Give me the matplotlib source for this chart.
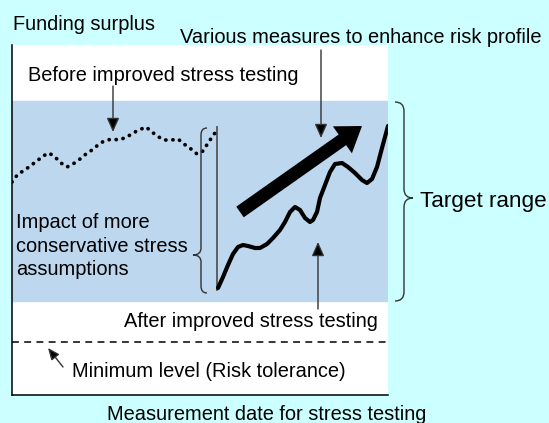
import matplotlib
matplotlib.use("Agg")
import matplotlib.pyplot as plt
from matplotlib.path import Path
from matplotlib.patches import PathPatch

plt.rcParams['font.family'] = ['Liberation Sans', 'DejaVu Sans']

# ---- data (axis units: x 0..376, y 0..350) ----
before_x = [0, 6, 13, 18, 25, 31, 37, 43, 49, 55, 61, 68, 74, 80, 86, 92, 100, 107, 115, 121, 127, 134, 140, 145, 152, 160, 166, 172, 179, 185, 191, 196, 205]
before_y = [213, 221, 225, 229, 234, 239, 242, 238, 232, 228, 231, 236, 241, 245, 250, 254, 256, 255, 258, 262, 265, 268, 263, 259, 255, 255, 256, 251, 246, 241, 244, 252, 265]

after_x = [206, 211, 216, 221, 226, 231, 236, 243, 248, 255, 261, 268, 273, 278, 283, 288, 293, 298, 301, 305, 308, 313, 318, 323, 330, 336, 343, 350, 355, 360, 365, 370, 376]
after_y = [107, 118, 130, 141, 148, 150, 149, 147, 147, 151, 157, 165, 173, 183, 188, 185, 177, 173, 175, 183, 197, 210, 223, 231, 232, 228, 222, 215, 212, 216, 228, 247, 269]

target_range = (94, 294)
minimum_level = 53
measures_arrow = [(228, 183), (350, 269)]
impact_lines = ["Impact of more", "conservative stress", "assumptions"]

BG = '#CCFFFF'
SHADE = '#BDD7EE'
FS = 14.4

fig = plt.figure(figsize=(5.49, 4.23), dpi=100, facecolor=BG)
W, H = 549, 423
ax = fig.add_axes([12 / W, (H - 395) / H, 376 / W, 350 / H])
ax.set_xlim(0, 376)
ax.set_ylim(0, 350)
ax.set_facecolor('white')
for s in ['top', 'right']:
    ax.spines[s].set_visible(False)
for s in ['left', 'bottom']:
    ax.spines[s].set_linewidth(1.1)
    ax.spines[s].set_color('black')
ax.set_xticks([])
ax.set_yticks([])

# target band
ax.axhspan(target_range[0], target_range[1], color=SHADE, zorder=0)
# minimum level
ax.axhline(minimum_level, color='black', lw=1.1, linestyle=(0, (4.5, 3.5)), zorder=2)

# lines
ax.plot(before_x, before_y, color='black', lw=2.7, linestyle=(0, (0.05, 1.85)),
        dash_capstyle='round', zorder=3)
ax.plot(after_x, after_y, color='black', lw=3.0, solid_capstyle='round',
        solid_joinstyle='round', zorder=3)

# big arrow
(x0, y0), (x1, y1) = measures_arrow
ax.arrow(x0, y0, x1 - x0, y1 - y0, width=13, head_width=33, head_length=24,
         length_includes_head=True, color='black', lw=0, zorder=4)

# gray vertical line
ax.plot([205, 205], [105, 268], color='#555555', lw=1.3, zorder=2)


def brace(xs, xe, xt, y0, y1, ym, r, clip=True):
    verts = [(xe, y1), (xs, y1), (xs, y1 - r), (xs, ym + r), (xs, ym), (xt, ym),
             (xs, ym), (xs, ym - r), (xs, y0 + r), (xs, y0), (xe, y0)]
    codes = [Path.MOVETO, Path.CURVE3, Path.CURVE3, Path.LINETO, Path.CURVE3, Path.CURVE3,
             Path.CURVE3, Path.CURVE3, Path.LINETO, Path.CURVE3, Path.CURVE3]
    p = PathPatch(Path(verts, codes), facecolor='none', edgecolor='#333333', lw=1.0,
                  clip_on=clip, zorder=3)
    ax.add_patch(p)


brace(189, 195, 181, 102, 267, 140, 7)
brace(392, 383, 401, 94, 293, 197, 9, clip=False)

arrow_kw = dict(arrowstyle='-|>,head_length=0.85,head_width=0.38', mutation_scale=10,
                color='#333333', fc='black', lw=1.0, shrinkA=0, shrinkB=0)
ax.annotate('', xy=(101, 263), xytext=(101, 309), arrowprops=arrow_kw, annotation_clip=False)
ax.annotate('', xy=(309, 257), xytext=(309, 345), arrowprops=arrow_kw, annotation_clip=False)
ax.annotate('', xy=(306, 153), xytext=(306, 86), arrowprops=arrow_kw, annotation_clip=False)
ax.annotate('', xy=(36, 47), xytext=(51, 28),
            arrowprops=dict(arrowstyle='-|>,head_length=0.7,head_width=0.3', mutation_scale=10,
                            color='#333333', fc='black', lw=1.0, shrinkA=0, shrinkB=0),
            annotation_clip=False)

tk = dict(fontsize=FS, color='black', va='baseline', ha='left', clip_on=False)
ax.text(1, 365, 'Funding surplus', **tk)
ax.text(168, 352, 'Various measures to enhance risk profile', **tk)
ax.text(16, 314, 'Before improved stress testing', **tk)
for i, line in enumerate(impact_lines):
    ax.text(4, 167 - 23.5 * i, line, **tk)
ax.text(112, 68, 'After improved stress testing', **tk)
ax.text(60, 18, 'Minimum level (Risk tolerance)', **tk)
ax.text(95, -25, 'Measurement date for stress testing', **tk)
ax.text(408, 188, 'Target range', **dict(tk, fontsize=16.2))

fig.savefig('out.png', dpi=100, facecolor=BG)
